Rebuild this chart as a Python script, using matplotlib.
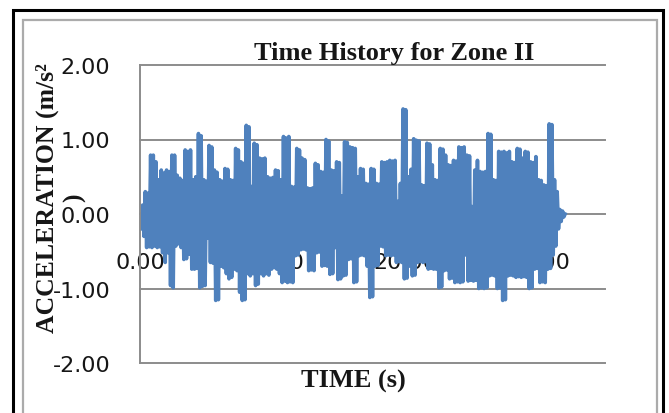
import numpy as np
import matplotlib
matplotlib.use("Agg")
import matplotlib.pyplot as plt
from matplotlib.lines import Line2D

plt.rcParams['axes.unicode_minus'] = False
plt.rcParams['path.simplify'] = False

# ---- chart text ----
title = "Time History for Zone II"
x_label = "TIME (s)"
y_label = "ACCELERATION (m/s²\n)"
x_ticks = [0, 10, 20, 30]
y_ticks = [-2, -1, 0, 1, 2]

# ---- record: alternating positive / negative excursions, 0.1 s apart ----
sample_step = 0.1  # s

# positive excursions at t = 0.0, 0.2, ... 32.0 s (m/s^2)
peaks = [
    0.00, 0.12, 0.30, 0.28, 0.79, 0.79, 0.70, 0.46, 0.59, 0.55,
    0.59, 0.57, 0.79, 0.79, 0.52, 0.48, 0.45, 0.86, 0.84, 0.86,
    0.46, 0.50, 1.08, 1.05, 0.46, 0.44, 0.92, 0.90, 0.59, 0.56,
    0.46, 0.44, 0.61, 0.60, 0.46, 0.45, 0.88, 0.86, 0.70, 0.68,
    1.19, 1.17, 0.37, 0.95, 0.93, 0.75, 0.74, 0.75, 0.50, 0.48,
    0.49, 0.59, 0.58, 0.46, 1.04, 1.02, 1.04, 0.37, 0.36, 0.88,
    0.86, 0.75, 0.73, 0.35, 0.34, 0.35, 0.68, 0.66, 0.57, 0.56,
    1.00, 0.98, 0.59, 0.58, 0.70, 0.69, 0.24, 0.97, 0.96, 0.90,
    0.89, 0.88, 0.50, 0.61, 0.60, 0.41, 0.40, 0.61, 0.60, 0.41,
    0.40, 0.70, 0.69, 0.70, 0.72, 0.71, 0.72, 0.17, 0.41, 1.41,
    1.40, 0.50, 0.60, 1.01, 0.99, 0.98, 0.39, 0.38, 0.95, 0.94,
    0.66, 0.46, 0.45, 0.88, 0.87, 0.79, 0.66, 0.65, 0.72, 0.71,
    0.90, 0.89, 0.90, 0.79, 0.78, 0.10, 0.59, 0.72, 0.57, 0.56,
    0.57, 1.08, 1.07, 0.46, 0.45, 0.84, 0.83, 0.84, 0.82, 0.84,
    0.70, 0.69, 0.88, 0.87, 0.75, 0.84, 0.83, 0.70, 0.69, 0.77,
    0.46, 0.45, 0.39, 0.38, 1.21, 1.20, 0.46, 0.30, 0.06, 0.04,
    0.00,
]

# negative excursions at t = 0.1, 0.3, ... 31.9 s (m/s^2)
troughs = [
    -0.20, -0.30, -0.45, -0.44, -0.45, -0.43, -0.45, -0.44, -0.52, -0.65,
    -0.52, -0.96, -0.99, -0.43, -0.40, -0.45, -0.61, -0.60, -0.54, -0.74,
    -0.74, -0.73, -0.99, -0.97, -0.96, -0.32, -0.65, -0.66, -1.16, -1.15,
    -0.70, -0.72, -0.80, -0.87, -0.85, -0.74, -0.76, -1.05, -1.16, -1.15,
    -0.80, -0.83, -0.80, -0.96, -0.94, -0.80, -0.83, -0.80, -0.82, -0.74,
    -0.72, -0.74, -0.80, -0.92, -0.90, -0.92, -0.91, -0.92, -0.56, -0.55,
    -0.48, -0.47, -0.48, -0.76, -0.75, -0.76, -0.52, -0.51, -0.70, -0.69,
    -0.70, -0.81, -0.80, -0.45, -0.88, -0.87, -0.83, -0.82, -0.61, -0.60,
    -0.92, -0.91, -0.56, -0.55, -0.56, -0.70, -1.12, -1.11, -0.70, -0.69,
    -0.43, -0.44, -0.56, -0.55, -0.56, -0.55, -0.65, -0.64, -0.65, -0.87,
    -0.86, -0.70, -0.83, -0.82, -0.65, -0.64, -0.65, -0.64, -0.74, -0.73,
    -0.74, -0.74, -0.99, -0.98, -0.76, -0.75, -0.87, -0.86, -0.92, -0.91,
    -0.92, -0.91, -0.55, -0.90, -0.89, -0.90, -0.89, -1.00, -0.99, -1.00,
    -0.99, -0.83, -0.82, -0.83, -1.00, -0.99, -1.16, -1.15, -0.83, -0.82,
    -0.83, -0.85, -0.84, -0.85, -0.84, -0.85, -1.00, -0.99, -0.74, -0.73,
    -0.92, -0.91, -0.92, -0.74, -0.73, -0.55, -0.43, -0.20, -0.10, -0.04,
]

# interleave into one sampled record
accel = []
for p, q in zip(peaks, troughs):
    accel += [p, q]
accel.append(peaks[len(troughs)])
accel = np.array(accel)
time = np.arange(len(accel)) * sample_step

# ---- styling ----
W, H = 669, 414
line_color = "#4F81BD"
grid_color = "#8C8C8C"
text_color = "#161616"
serif = ["Liberation Serif", "DejaVu Serif"]

fig = plt.figure(figsize=(W / 100, H / 100), dpi=100)
fig.patch.set_facecolor("white")

ax = fig.add_axes([140 / W, 1 - 364 / H, 465 / W, 298 / H])
ax.plot(time, accel, color=line_color, lw=2.6, solid_joinstyle="round", zorder=2)

ax.set_xlim(0, 35)
ax.set_ylim(-2, 2)
ax.set_xticks(x_ticks)
ax.set_xticklabels([f"{v:.2f}" for v in x_ticks])
ax.set_yticks(y_ticks)
ax.set_yticklabels([f"{v:.2f}" for v in y_ticks])

for side in ("top", "right"):
    ax.spines[side].set_visible(False)
ax.spines["left"].set_color(grid_color)
ax.spines["left"].set_linewidth(1.4)
ax.spines["bottom"].set_position(("data", 0))
ax.spines["bottom"].set_visible(False)

ax.tick_params(axis="both", length=0, labelsize=16, labelcolor=text_color)
ax.tick_params(axis="y", pad=21.5)
ax.tick_params(axis="x", pad=27.5)
ax.yaxis.grid(True, color=grid_color, lw=1.4)
ax.set_axisbelow(True)
for gl in ax.get_ygridlines():
    gl.set_clip_on(False)

# ---- titles ----
fig.text(394 / W, 1 - 60 / H, title, ha="center", va="baseline",
         family=serif, weight="bold", fontsize=19, color=text_color)
fig.text(353 / W, 1 - 388 / H, x_label, ha="center", va="baseline",
         family=serif, weight="bold", fontsize=19, color=text_color)
fig.text(61 / W, 1 - 198 / H, y_label, ha="center", va="center",
         rotation=90, multialignment="center", linespacing=1.2,
         family=serif, weight="bold", fontsize=18.5, color=text_color)

# ---- chart frame ----
def frame(xs, ys, color, lw):
    fig.add_artist(Line2D([x / W for x in xs], [1 - y / H for y in ys],
                          transform=fig.transFigure, color=color, lw=lw,
                          solid_joinstyle="miter"))

frame([23, 23, 657, 657], [430, 21, 21, 430], "#ABABAB", 1.6)
frame([13, 13, 663, 663], [430, 11, 11, 430], "black", 2.2)

fig.savefig("out.png", dpi=100, facecolor="white")
